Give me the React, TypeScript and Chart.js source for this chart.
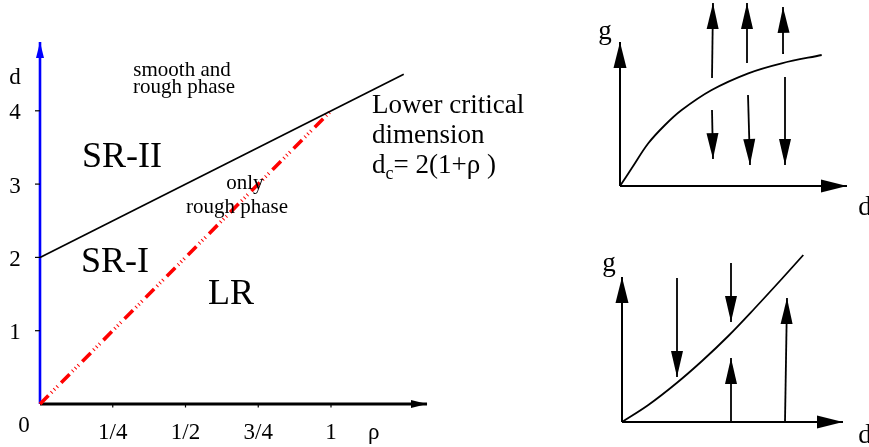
import { useEffect, useRef } from "react";
import { Chart, registerables } from "chart.js";

Chart.register(...registerables);

const FONT = '"Liberation Serif", "Times New Roman", serif';

// ---------- main phase diagram data ----------
const rhoTicks = [0.25, 0.5, 0.75, 1];
const rhoTickLabels = ["1/4", "1/2", "3/4", "1"];
const dTicks = [1, 2, 3, 4];
const dTickLabels = ["1", "2", "3", "4"];
const criticalRho = [0, 1.25];
const criticalD = [2, 4.5];
const boundaryRho = [0, 1];
const boundaryD = [0, 4];
const rhoAxisEnd = 1.33;
const dAxisEnd = 4.94;

const regionTexts = ["smooth and", "rough phase", "SR-II", "only", "rough phase", "SR-I", "LR"];
const regionRho = [0.488, 0.495, 0.282, 0.704, 0.677, 0.258, 0.656];
const regionD = [4.475, 4.243, 3.233, 2.933, 2.606, 1.8, 1.364];
const regionSize = [21, 21, 36, 21, 21, 36, 36];

const noteLines = ["Lower critical", "dimension"];
const noteRho = 1.141;
const noteD = [3.97, 3.561, 3.151];

// ---------- top flow diagram (g vs d) ----------
const topCurveX = [0, 1.17, 2.83, 4.5, 6.17, 9.17, 12.83, 16.17, 20.17];
const topCurveY = [0, 1.77, 4.27, 6.1, 7.6, 9.6, 11.27, 12.27, 13.1];
const topArrows: [number, number, number, number][] = [
  [9.2, 10.8, 9.3, 18.3],
  [9.2, 7.6, 9.3, 2.7],
  [12.7, 12.3, 12.7, 18.3],
  [12.8, 9.1, 13.0, 2.1],
  [16.4, 13.3, 16.3, 17.9],
  [16.5, 10.9, 16.5, 2.1],
];
const topAxisX = 22.7;
const topAxisY = 14.4;

// ---------- bottom flow diagram (g vs d) ----------
const botCurveX = [0, 2.63, 5.47, 8, 10.63, 13.3, 15.97, 18.13];
const botCurveY = [0, 1.7, 3.9, 6.1, 8.6, 11.4, 14.3, 16.7];
const botArrows: [number, number, number, number][] = [
  [5.5, 14.4, 5.5, 4.5],
  [10.9, 15.9, 10.9, 10.0],
  [10.9, 0, 10.9, 6.4],
  [16.3, 0, 16.5, 12.4],
];
const botAxisX = 22.1;
const botAxisY = 14.5;

const arrowPlugin = {
  id: "arrowHeads",
  afterDatasetsDraw(chart: any) {
    const ctx = chart.ctx;
    chart.data.datasets.forEach((ds: any, i: number) => {
      const head = ds.arrowHead;
      if (!head) return;
      const pts = chart.getDatasetMeta(i).data;
      const n = pts.length;
      if (n < 2) return;
      const a = pts[n - 2];
      const b = pts[n - 1];
      const ang = Math.atan2(b.y - a.y, b.x - a.x);
      ctx.save();
      ctx.translate(b.x, b.y);
      ctx.rotate(ang);
      ctx.beginPath();
      ctx.moveTo(0, 0);
      ctx.lineTo(-head.len, head.half);
      ctx.lineTo(-head.len, -head.half);
      ctx.closePath();
      ctx.fillStyle = ds.borderColor;
      ctx.fill();
      ctx.restore();
    });
  },
};

function text(ctx: any, s: string, x: number, y: number, size: number, align = "center") {
  ctx.font = `${size}px ${FONT}`;
  ctx.textAlign = align;
  ctx.textBaseline = "alphabetic";
  ctx.fillStyle = "#000";
  ctx.fillText(s, x, y);
}

function seg(x: number[], y: number[]) {
  return x.map((v, i) => ({ x: v, y: y[i] }));
}

function lineDs(data: any[], color: string, width: number, extra: any = {}) {
  return {
    data,
    showLine: true,
    borderColor: color,
    backgroundColor: color,
    borderWidth: width,
    pointRadius: 0,
    pointHoverRadius: 0,
    fill: false,
    clip: false,
    borderCapStyle: "butt",
    ...extra,
  };
}

const hiddenScales = (xmax: number, ymax: number) => ({
  x: { type: "linear", min: 0, max: xmax, display: false },
  y: { type: "linear", min: 0, max: ymax, display: false },
});

const baseOptions = (padding: any, xmax: number, ymax: number) => ({
  responsive: false,
  animation: false,
  events: [],
  layout: { padding },
  scales: hiddenScales(xmax, ymax),
  plugins: { legend: { display: false }, tooltip: { enabled: false } },
});

function useChart(ref: any, make: () => any) {
  useEffect(() => {
    const chart = new Chart(ref.current, make());
    return () => chart.destroy();
  }, []);
}

function MainChart() {
  const ref = useRef<HTMLCanvasElement>(null);
  useChart(ref, () => ({
    type: "scatter",
    data: {
      datasets: [
        lineDs(seg(criticalRho, criticalD), "#000", 1.7),
        lineDs(seg(boundaryRho, boundaryD), "#ff0000", 3.6, {
          borderDash: [12, 4, 1, 3, 1, 3, 1, 5],
        }),
        lineDs(seg([0, 0], [0, dAxisEnd]), "#0000ff", 2.6, { arrowHead: { len: 16, half: 4 } }),
        lineDs(seg([0, rhoAxisEnd], [0, 0]), "#000", 2.8, { arrowHead: { len: 16, half: 4 } }),
      ],
    },
    options: baseOptions({ left: 40, right: 103.5, top: 37.5, bottom: 43 }, 1.5, 5),
    plugins: [
      arrowPlugin,
      {
        id: "mainLabels",
        afterDraw(chart: any) {
          const { ctx } = chart;
          const xs = chart.scales.x;
          const ys = chart.scales.y;
          const x0 = xs.getPixelForValue(0);
          const y0 = ys.getPixelForValue(0);
          ctx.save();
          ctx.strokeStyle = "#000";
          ctx.lineWidth = 1.2;
          dTicks.forEach((v, i) => {
            const py = ys.getPixelForValue(v);
            ctx.beginPath();
            ctx.moveTo(x0 - 5, py);
            ctx.lineTo(x0, py);
            ctx.stroke();
            text(ctx, dTickLabels[i], x0 - 25, py + 8.5, 23);
          });
          rhoTicks.forEach((v, i) => {
            const px = xs.getPixelForValue(v);
            ctx.beginPath();
            ctx.moveTo(px, y0);
            ctx.lineTo(px, y0 + 3.5);
            ctx.stroke();
            text(ctx, rhoTickLabels[i], px, y0 + 35, 23);
          });
          text(ctx, "0", x0 - 16, y0 + 28, 23);
          text(ctx, "ρ", xs.getPixelForValue(1.147), y0 + 35, 23);
          text(ctx, "d", x0 - 25, ys.getPixelForValue(4.37), 23);
          regionTexts.forEach((s, i) => {
            text(ctx, s, xs.getPixelForValue(regionRho[i]), ys.getPixelForValue(regionD[i]), regionSize[i]);
          });
          const nx = xs.getPixelForValue(noteRho);
          noteLines.forEach((s, i) => text(ctx, s, nx, ys.getPixelForValue(noteD[i]), 27, "left"));
          const by = ys.getPixelForValue(noteD[2]);
          ctx.font = `27px ${FONT}`;
          const wd = ctx.measureText("d").width;
          text(ctx, "d", nx, by, 27, "left");
          ctx.font = `18px ${FONT}`;
          const wc = ctx.measureText("c").width;
          text(ctx, "c", nx + wd, by + 6, 18, "left");
          text(ctx, "= 2(1+ρ )", nx + wd + wc, by, 27, "left");
          ctx.restore();
        },
      },
    ],
  }));
  return (
    <canvas
      ref={ref}
      width={580}
      height={447}
      style={{ position: "absolute", left: 0, top: 0, width: 580, height: 447 }}
    />
  );
}

function FlowChart(props: {
  left: number;
  top: number;
  width: number;
  height: number;
  padding: any;
  xmax: number;
  ymax: number;
  curveX: number[];
  curveY: number[];
  arrows: [number, number, number, number][];
  axisX: number;
  axisY: number;
  gPos: [number, number];
  dPos: [number, number];
}) {
  const ref = useRef<HTMLCanvasElement>(null);
  useChart(ref, () => ({
    type: "scatter",
    data: {
      datasets: [
        lineDs(seg(props.curveX, props.curveY), "#000", 1.8, { tension: 0.35 }),
        lineDs(seg([0, 0], [0, props.axisY]), "#000", 2, { arrowHead: { len: 26, half: 6.5 } }),
        lineDs(seg([0, props.axisX], [0, 0]), "#000", 2, { arrowHead: { len: 26, half: 6.5 } }),
        ...props.arrows.map((a) =>
          lineDs(seg([a[0], a[2]], [a[1], a[3]]), "#000", 1.8, { arrowHead: { len: 26, half: 6 } })
        ),
      ],
    },
    options: baseOptions(props.padding, props.xmax, props.ymax),
    plugins: [
      arrowPlugin,
      {
        id: "flowLabels",
        afterDraw(chart: any) {
          const { ctx } = chart;
          const xs = chart.scales.x;
          const ys = chart.scales.y;
          ctx.save();
          text(ctx, "g", xs.getPixelForValue(props.gPos[0]), ys.getPixelForValue(props.gPos[1]), 27);
          text(ctx, "d", xs.getPixelForValue(props.dPos[0]), ys.getPixelForValue(props.dPos[1]), 27);
          ctx.restore();
        },
      },
    ],
  }));
  return (
    <canvas
      ref={ref}
      width={props.width}
      height={props.height}
      style={{ position: "absolute", left: props.left, top: props.top, width: props.width, height: props.height }}
    />
  );
}

export default function App() {
  return (
    <div style={{ position: "absolute", left: 0, top: 0, width: 869, height: 447, background: "#fff", overflow: "hidden" }}>
      <MainChart />
      <FlowChart
        left={580}
        top={0}
        width={289}
        height={230}
        padding={{ left: 40, right: 9, top: 0, bottom: 44 }}
        xmax={24}
        ymax={18.6}
        curveX={topCurveX}
        curveY={topCurveY}
        arrows={topArrows}
        axisX={topAxisX}
        axisY={topAxisY}
        gPos={[-1.5, 14.7]}
        dPos={[24.5, -2.9]}
      />
      <FlowChart
        left={580}
        top={230}
        width={289}
        height={217}
        padding={{ left: 42, right: 7, top: 0, bottom: 25 }}
        xmax={24}
        ymax={19.2}
        curveX={botCurveX}
        curveY={botCurveY}
        arrows={botArrows}
        axisX={botAxisX}
        axisY={botAxisY}
        gPos={[-1.3, 15.1]}
        dPos={[24.3, -2.1]}
      />
    </div>
  );
}
